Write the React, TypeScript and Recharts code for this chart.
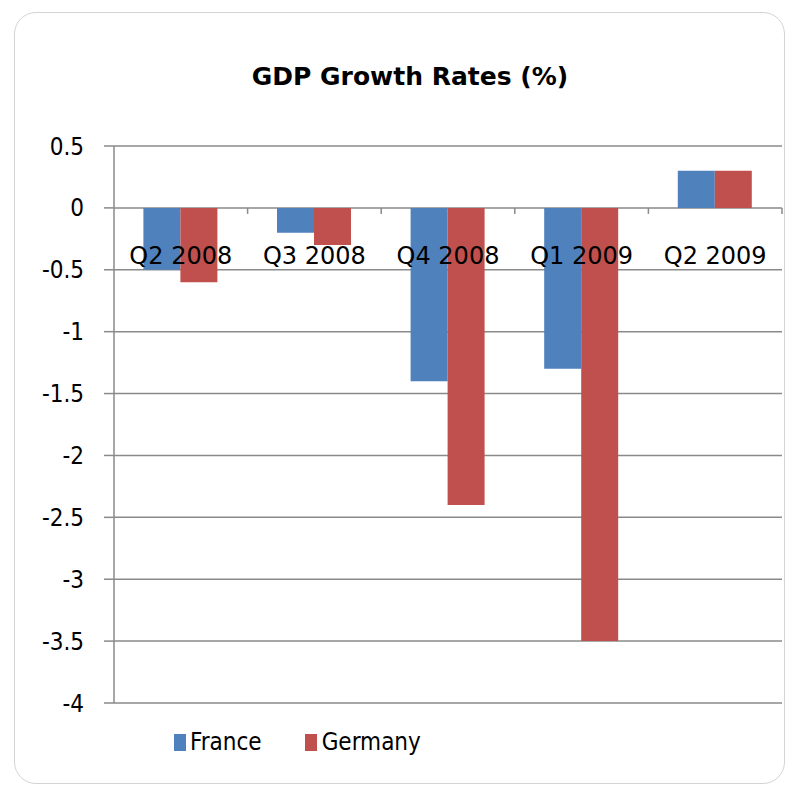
import React from 'react';
import { Bar, BarChart, CartesianGrid, XAxis, YAxis } from 'recharts';

const quarters = ['Q2 2008', 'Q3 2008', 'Q4 2008', 'Q1 2009', 'Q2 2009'];
const franceGrowth = [-0.5, -0.2, -1.4, -1.3, 0.3];
const germanyGrowth = [-0.6, -0.3, -2.4, -3.5, 0.3];
const yTicks = [0.5, 0, -0.5, -1, -1.5, -2, -2.5, -3, -3.5, -4];

const data = quarters.map((q, i) => ({
  quarter: q,
  France: franceGrowth[i],
  Germany: germanyGrowth[i],
}));

const W = 793;
const H = 788;
const PLOT_TOP = 146;
const PLOT_BOTTOM = 703;
const PLOT_LEFT = 114;
const PLOT_RIGHT = 782;
const Y_MAX = 0.5;
const Y_MIN = -4;
const ZERO_Y = PLOT_TOP + ((Y_MAX - 0) / (Y_MAX - Y_MIN)) * (PLOT_BOTTOM - PLOT_TOP);
const BAND = (PLOT_RIGHT - PLOT_LEFT) / quarters.length;

const GRID = '#8a8a8a';
const BLUE = '#4f81bd';
const RED = '#c0504d';
const NARROW = '"Liberation Sans Narrow", "DejaVu Sans Condensed", sans-serif';

// category labels sit under the zero line, like Excel does it
const QuarterTick = (props: any) => {
  const { x, payload } = props;
  return (
    <g>
      <line x1={x + BAND / 2} x2={x + BAND / 2} y1={ZERO_Y} y2={ZERO_Y + 6} stroke={GRID} strokeWidth={1.5} />
      <text
        x={x}
        y={ZERO_Y + 48}
        textAnchor="middle"
        dominantBaseline="central"
        fontFamily="DejaVu Sans"
        fontSize={24}
        fill="#000"
      >
        {payload.value}
      </text>
    </g>
  );
};

const ChartLegend = () => (
  <div
    style={{
      position: 'absolute',
      left: 174,
      top: 728,
      display: 'flex',
      alignItems: 'center',
      fontFamily: NARROW,
      fontSize: 24,
      color: '#000',
    }}
  >
    <span style={{ display: 'inline-block', width: 12, height: 17, background: BLUE, marginRight: 4 }} />
    <span style={{ marginRight: 43 }}>France</span>
    <span style={{ display: 'inline-block', width: 12, height: 17, background: RED, marginRight: 5 }} />
    <span>Germany</span>
  </div>
);

export default function App() {
  return (
    <div style={{ position: 'absolute', left: 0, top: 0, width: W, height: H, background: '#fff' }}>
      <div
        style={{
          position: 'absolute',
          left: 14,
          top: 12,
          width: 771,
          height: 772,
          border: '1.5px solid #d4d4d4',
          borderRadius: 22,
          boxSizing: 'border-box',
        }}
      />
      <div
        style={{
          position: 'absolute',
          left: 0,
          top: 62,
          width: 820,
          textAlign: 'center',
          fontFamily: 'DejaVu Sans',
          fontWeight: 'bold',
          fontSize: 25,
          color: '#000',
        }}
      >
        GDP Growth Rates (%)
      </div>
      <BarChart
        width={W}
        height={H}
        data={data}
        margin={{ top: PLOT_TOP, right: W - PLOT_RIGHT, bottom: H - PLOT_BOTTOM - 30, left: 0 }}
        barGap={0}
        barCategoryGap="22%"
        style={{ position: 'absolute', left: 0, top: 0 }}
      >
        <CartesianGrid vertical={false} stroke={GRID} strokeWidth={1.5} />
        <XAxis dataKey="quarter" axisLine={false} tickLine={false} height={30} tick={<QuarterTick />} interval={0} />
        <YAxis
          width={PLOT_LEFT}
          domain={[Y_MIN, Y_MAX]}
          ticks={yTicks}
          interval={0}
          axisLine={{ stroke: GRID, strokeWidth: 1.5 }}
          tickLine={{ stroke: GRID, strokeWidth: 1.5 }}
          tickSize={10}
          tickMargin={20}
          tick={{ fill: '#000', fontSize: 24, fontFamily: NARROW }}
        />
        <Bar dataKey="France" fill={BLUE} isAnimationActive={false} />
        <Bar dataKey="Germany" fill={RED} isAnimationActive={false} />
      </BarChart>
      <ChartLegend />
    </div>
  );
}
